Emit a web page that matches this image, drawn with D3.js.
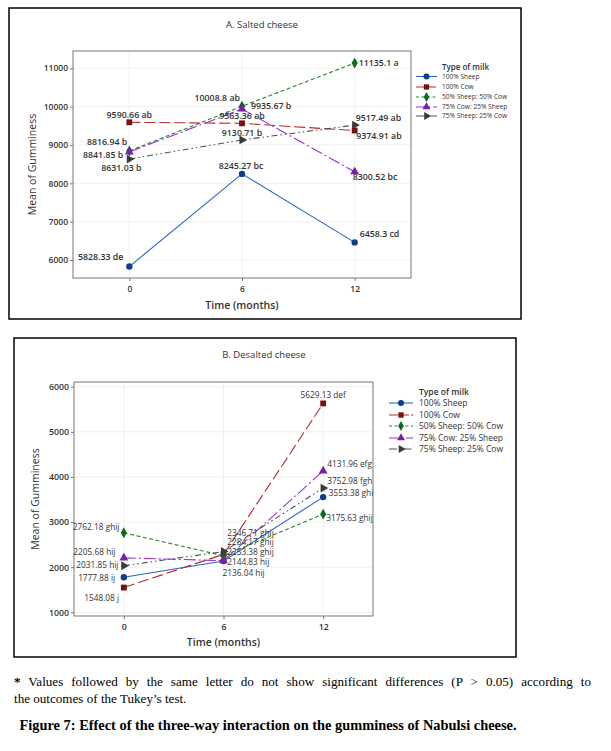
<!DOCTYPE html>
<html>
<head>
    <meta charset="utf-8">
    <style type="text/css">
        body { margin: 0; background: #fff; }
        svg { display: block; }
        .chart text { font-family: "Open Sans", "Noto Sans", sans-serif; fill: #333; }
        .note text { font-family: "Liberation Serif", "Times New Roman", serif; fill: #000; }
    </style>
</head>
<body>
<div id="canvas"></div>
<script src="https://cdn.jsdelivr.net/npm/d3@7"></script>
<script type="text/javascript">
// ---- data ----
var timePoints = [0, 6, 12];
var milkTypes = ["100% Sheep", "100% Cow", "50% Sheep: 50% Cow", "75% Cow: 25% Sheep", "75% Sheep: 25% Cow"];

// A. salted cheese
var saltedSheep = [5828.33, 8245.27, 6458.3];
var saltedCow = [9590.66, 9563.36, 9374.91];
var saltedHalf = [8841.85, 10008.8, 11135.1];
var saltedCow75 = [8816.94, 9935.67, 8300.52];
var saltedSheep75 = [8631.03, 9130.71, 9517.49];
var saltedLetters = [["de", "bc", "cd"], ["ab", "ab", "ab"], ["b", "ab", "a"], ["b", "b", "bc"], ["b", "b", "ab"]];
var saltedTicks = [6000, 7000, 8000, 9000, 10000, 11000];

// B. desalted cheese
var desaltedSheep = [1777.88, 2136.04, 3553.38];
var desaltedCow = [1548.08, 2284.17, 5629.13];
var desaltedHalf = [2762.18, 2253.38, 3175.63];
var desaltedCow75 = [2205.68, 2144.83, 4131.96];
var desaltedSheep75 = [2031.85, 2346.71, 3752.98];
var desaltedLetters = [["ij", "hij", "ghi"], ["j", "ghij", "def"], ["ghij", "ghij", "ghij"], ["hij", "hij", "efg"], ["hij", "ghij", "fgh"]];
var desaltedTicks = [1000, 2000, 3000, 4000, 5000, 6000];

// ---- styles ----
var lineColors = ["#2a64c4", "#b8282a", "#1d8a2c", "#9b30cf", "#505050"];
var markColors = ["#0c3c8c", "#7a0f0f", "#0b6b1c", "#7a1fa8", "#3a3a3a"];
var dashes = [null, "11,4", "4,2.5", "12,3,2,3", "6,3,1.5,3,1.5,3"];
var legendDashes = [null, "9,2", "3,2.5", "9,3,2,3", "8,3,1.5,2"];
var symbols = [d3.symbolCircle, d3.symbolSquare, d3.symbolDiamond, d3.symbolTriangle, d3.symbolTriangle];
var symbolRot = [0, 0, 0, 0, 90];

// label offsets [dx, dy, anchor] per series per time point
var saltedOffsets = [
    [[-6, -6.5, "end"], [-1, -5, "middle"], [5, -5, "start"]],
    [[0, -4.5, "middle"], [0, -4, "middle"], [1.5, 8.5, "start"]],
    [[-6, 6.5, "end"], [-2, -5, "end"], [4, 3, "start"]],
    [[-2, -6.5, "end"], [9, 0, "start"], [-2, 8, "start"]],
    [[-8, 12, "middle"], [0, -4, "middle"], [1, -4, "start"]]
];
var desaltedOffsets = [
    [[-8.7, 4, "end"], [-1, 15, "start"], [5.6, -1, "start"]],
    [[-4.7, 13, "end"], [3.7, -9, "start"], [0, -5, "middle"]],
    [[-4.4, -3, "end"], [3.7, -0.6, "start"], [3, 7, "start"]],
    [[-8.4, -3, "end"], [3.7, 4, "start"], [4, -4.4, "start"]],
    [[-5.4, 2, "end"], [3.7, -15.7, "start"], [4, -4, "start"]]
];

var svg = d3.select("#canvas").append("svg")
    .attr("width", 611)
    .attr("height", 751);
svg.append("rect").attr("width", 611).attr("height", 751).attr("fill", "#fff");

var drawPanel = function (cfg) {
    var g = svg.append("g").attr("class", "chart");

    g.append("rect")
        .attr("x", cfg.box[0]).attr("y", cfg.box[1])
        .attr("width", cfg.box[2]).attr("height", cfg.box[3])
        .attr("fill", "#fff").attr("stroke", "#000").attr("stroke-width", 1.5);

    var x = d3.scaleLinear().domain([-3, 15]).range([cfg.plot.l, cfg.plot.r]);
    var y = d3.scaleLinear().domain(cfg.yDomain).range([cfg.plot.b, cfg.plot.t]);

    // grid
    g.append("g").selectAll("line").data(cfg.ticks).enter().append("line")
        .attr("x1", cfg.plot.l).attr("x2", cfg.plot.r)
        .attr("y1", function (d) { return y(d); }).attr("y2", function (d) { return y(d); })
        .attr("stroke", "#ececec").attr("stroke-width", 0.8);
    g.append("g").selectAll("line").data(timePoints).enter().append("line")
        .attr("y1", cfg.plot.t).attr("y2", cfg.plot.b)
        .attr("x1", function (d) { return x(d); }).attr("x2", function (d) { return x(d); })
        .attr("stroke", "#ececec").attr("stroke-width", 0.8);

    g.append("rect")
        .attr("x", cfg.plot.l).attr("y", cfg.plot.t)
        .attr("width", cfg.plot.r - cfg.plot.l).attr("height", cfg.plot.b - cfg.plot.t)
        .attr("fill", "none").attr("stroke", "#777").attr("stroke-width", 1);

    // axes
    var yAxis = g.append("g")
        .attr("transform", "translate(" + cfg.plot.l + ",0)")
        .call(d3.axisLeft(y).tickValues(cfg.ticks).tickSize(3).tickPadding(2).tickFormat(d3.format("d")));
    var xAxis = g.append("g")
        .attr("transform", "translate(0," + cfg.plot.b + ")")
        .call(d3.axisBottom(x).tickValues(timePoints).tickSize(3).tickPadding(5));
    [yAxis, xAxis].forEach(function (a) {
        a.select(".domain").remove();
        a.selectAll(".tick line").attr("stroke", "#777");
        a.selectAll(".tick text")
            .style("font-family", "'Open Sans', sans-serif")
            .style("font-size", cfg.tickSize + "px")
            .style("font-weight", 600)
            .attr("fill", "#222");
    });

    // titles
    g.append("text").attr("x", cfg.titleX).attr("y", cfg.titleY)
        .attr("text-anchor", "middle").style("font-size", "9.5px").attr("fill", "#444")
        .text(cfg.title);
    g.append("text").attr("x", (cfg.plot.l + cfg.plot.r) / 2).attr("y", cfg.xTitleY)
        .attr("text-anchor", "middle").style("font-size", "10.5px").style("font-weight", 600)
        .attr("fill", "#222").text("Time (months)");
    g.append("text")
        .attr("transform", "translate(" + cfg.yTitleX + "," + (cfg.plot.t + cfg.plot.b) / 2 + ") rotate(-90)")
        .attr("text-anchor", "middle").style("font-size", "10.5px").style("font-weight", 500)
        .attr("fill", "#222").text("Mean of Gumminess");

    var line = d3.line()
        .x(function (d, i) { return x(timePoints[i]); })
        .y(function (d) { return y(d); });

    cfg.series.forEach(function (vals, s) {
        g.append("path").datum(vals)
            .attr("d", line)
            .attr("fill", "none")
            .attr("stroke", lineColors[s])
            .attr("stroke-width", 1.1)
            .attr("stroke-dasharray", dashes[s]);
    });

    cfg.series.forEach(function (vals, s) {
        g.append("g").selectAll("path").data(vals).enter().append("path")
            .attr("d", d3.symbol().type(symbols[s]).size(s === 0 ? 32 : 34))
            .attr("transform", function (d, i) {
                return "translate(" + x(timePoints[i]) + "," + y(d) + ") rotate(" + symbolRot[s] + ")";
            })
            .attr("fill", markColors[s]);
    });

    cfg.series.forEach(function (vals, s) {
        g.append("g").selectAll("text").data(vals).enter().append("text")
            .attr("x", function (d, i) { return x(timePoints[i]) + cfg.offsets[s][i][0]; })
            .attr("y", function (d, i) { return y(d) + cfg.offsets[s][i][1]; })
            .attr("text-anchor", function (d, i) { return cfg.offsets[s][i][2]; })
            .style("font-size", cfg.labelSize + "px")
            .style("font-weight", cfg.labelWeight)
            .attr("fill", "#333")
            .text(function (d, i) { return d + " " + cfg.letters[s][i]; });
    });

    // legend
    var lg = g.append("g");
    lg.append("text").attr("x", cfg.legend.tx).attr("y", cfg.legend.titleY)
        .style("font-size", cfg.legend.titleSize + "px").style("font-weight", 600)
        .attr("fill", "#333").text("Type of milk");
    milkTypes.forEach(function (name, s) {
        var ly = cfg.legend.ys[s];
        lg.append("line")
            .attr("x1", cfg.legend.x0).attr("x2", cfg.legend.x0 + cfg.legend.len)
            .attr("y1", ly).attr("y2", ly)
            .attr("stroke", lineColors[s]).attr("stroke-width", 1.1)
            .attr("stroke-dasharray", legendDashes[s]);
        lg.append("path")
            .attr("d", d3.symbol().type(symbols[s]).size(28))
            .attr("transform", "translate(" + (cfg.legend.x0 + cfg.legend.len / 2) + "," + ly + ") rotate(" + symbolRot[s] + ")")
            .attr("fill", markColors[s]);
        lg.append("text")
            .attr("x", cfg.legend.tx).attr("y", ly).attr("dy", "0.35em")
            .style("font-size", cfg.legend.size + "px")
            .attr("fill", "#333").text(name);
    });
};

drawPanel({
    box: [9, 8, 512, 311],
    plot: { l: 73, t: 51, r: 411, b: 278 },
    yDomain: [5530, 11450],
    ticks: saltedTicks,
    tickSize: 8.5,
    title: "A. Salted cheese",
    titleX: 262, titleY: 28,
    xTitleY: 309, yTitleX: 36,
    series: [saltedSheep, saltedCow, saltedHalf, saltedCow75, saltedSheep75],
    letters: saltedLetters,
    offsets: saltedOffsets,
    labelSize: 8.8, labelWeight: 600,
    legend: { x0: 416, len: 21, tx: 442, titleY: 70, titleSize: 8, size: 6.6, ys: [76.5, 87, 97, 107, 116] }
});

drawPanel({
    box: [14, 338, 502, 319],
    plot: { l: 74, t: 382, r: 373, b: 616 },
    yDomain: [918, 6104],
    ticks: desaltedTicks,
    tickSize: 8.8,
    title: "B. Desalted cheese",
    titleX: 264, titleY: 358,
    xTitleY: 646, yTitleX: 39,
    series: [desaltedSheep, desaltedCow, desaltedHalf, desaltedCow75, desaltedSheep75],
    letters: desaltedLetters,
    offsets: desaltedOffsets,
    labelSize: 8.3, labelWeight: 400,
    legend: { x0: 389, len: 24, tx: 419, titleY: 395, titleSize: 8.5, size: 8.5, ys: [403, 415, 426, 438, 449] }
});

// footnote and caption (first line justified to the right margin)
var note = svg.append("g").attr("class", "note");
var first = note.append("text").attr("x", 14).attr("y", 686).style("font-size", "13.1px")
    .html('<tspan font-weight="bold">*</tspan> Values followed by the same letter do not show significant differences (P &gt; 0.05) according to');
var gaps = 16;
var extra = (577 - first.node().getComputedTextLength()) / gaps;
if (extra > 0) first.style("word-spacing", extra + "px");
note.append("text").attr("x", 14).attr("y", 703).style("font-size", "13.1px")
    .text("the outcomes of the Tukey\u2019s test.");
note.append("text").attr("x", 268).attr("y", 730).attr("text-anchor", "middle")
    .style("font-size", "14.4px").style("font-weight", "bold")
    .text("Figure 7: Effect of the three-way interaction on the gumminess of Nabulsi cheese.");
</script>
</body>
</html>
